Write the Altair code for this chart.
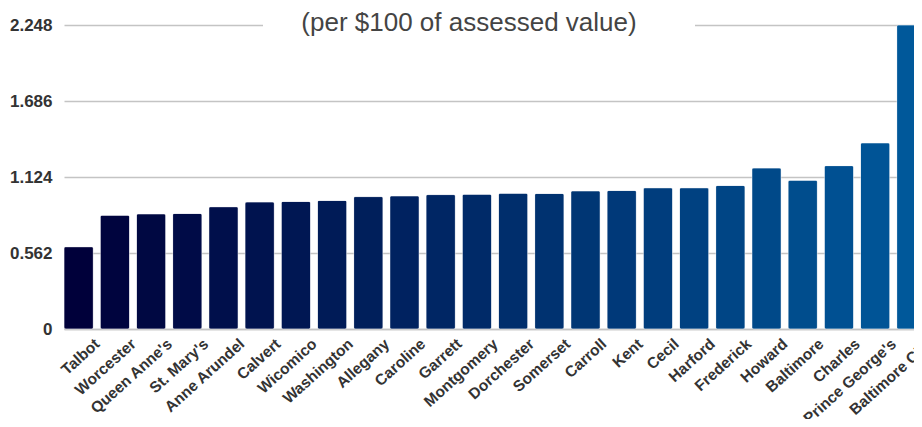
import altair as alt
import pandas as pd

counties = ["Talbot", "Worcester", "Queen Anne's", "St. Mary's", "Anne Arundel",
            "Calvert", "Wicomico", "Washington", "Allegany", "Caroline", "Garrett",
            "Montgomery", "Dorchester", "Somerset", "Carroll", "Kent", "Cecil",
            "Harford", "Frederick", "Howard", "Baltimore", "Charles",
            "Prince George's", "Baltimore City"]
rates = [0.608, 0.841, 0.851, 0.854, 0.904, 0.939, 0.943, 0.951, 0.979, 0.984,
         0.994, 0.996, 1.003, 1.002, 1.021, 1.024, 1.044, 1.044, 1.061, 1.190,
         1.100, 1.208, 1.376, 2.248]
y_ticks = [0, 0.562, 1.124, 1.686, 2.248]
title_text = "(per $100 of assessed value)"

df = pd.DataFrame({"county": counties, "rate": rates, "order": list(range(len(counties)))})
tdf = pd.DataFrame({"t": [title_text]})

FONT = "Liberation Sans"

bars = alt.Chart(df).mark_bar(
    cornerRadius=2, stroke="#ffffff", strokeOpacity=0.35, strokeWidth=1
).encode(
    x=alt.X("county:N", sort=counties,
            scale=alt.Scale(paddingInner=0.19, paddingOuter=0),
            axis=alt.Axis(title=None, labelAngle=-42, labelAlign="right",
                          labelBaseline="top", labelFont=FONT,
                          labelFontWeight="bold", labelFontSize=15.5,
                          labelColor="#333333", labelPadding=7, labelOffset=14,
                          ticks=False, domainColor="#c4c4c4", domainWidth=1.5,
                          labelOverlap=False)),
    y=alt.Y("rate:Q", scale=alt.Scale(domain=[0, 2.248], nice=False, zero=True),
            axis=alt.Axis(title=None, values=y_ticks, format=".3~f", ticks=False,
                          domain=False, labelFont=FONT, labelFontSize=17,
                          labelFontWeight="bold", labelColor="#333333",
                          labelPadding=12, gridColor="#c4c4c4", gridWidth=1.5)),
    color=alt.Color("order:Q", scale=alt.Scale(range=["#00003a", "#00589a"], interpolate="rgb"),
                    legend=None),
    tooltip=["county:N", "rate:Q"],
)

bg = alt.Chart(tdf).mark_rect(fill="white").encode(
    x=alt.value(199), x2=alt.value(631), y=alt.value(-16), y2=alt.value(8)
)
txt = alt.Chart(tdf).mark_text(
    font=FONT, fontSize=26, color="#444444", baseline="middle", align="center"
).encode(x=alt.value(405), y=alt.value(-2), text="t:N")

chart = alt.layer(bars, bg, txt).properties(
    width=862, height=304,
    autosize=alt.AutoSizeParams(type="none"),
    padding={"left": 56, "top": 17, "right": -12, "bottom": 90},
    background="white",
).configure_view(stroke=None)

chart.save("out.html", embed_options={"renderer": "svg", "actions": False})
